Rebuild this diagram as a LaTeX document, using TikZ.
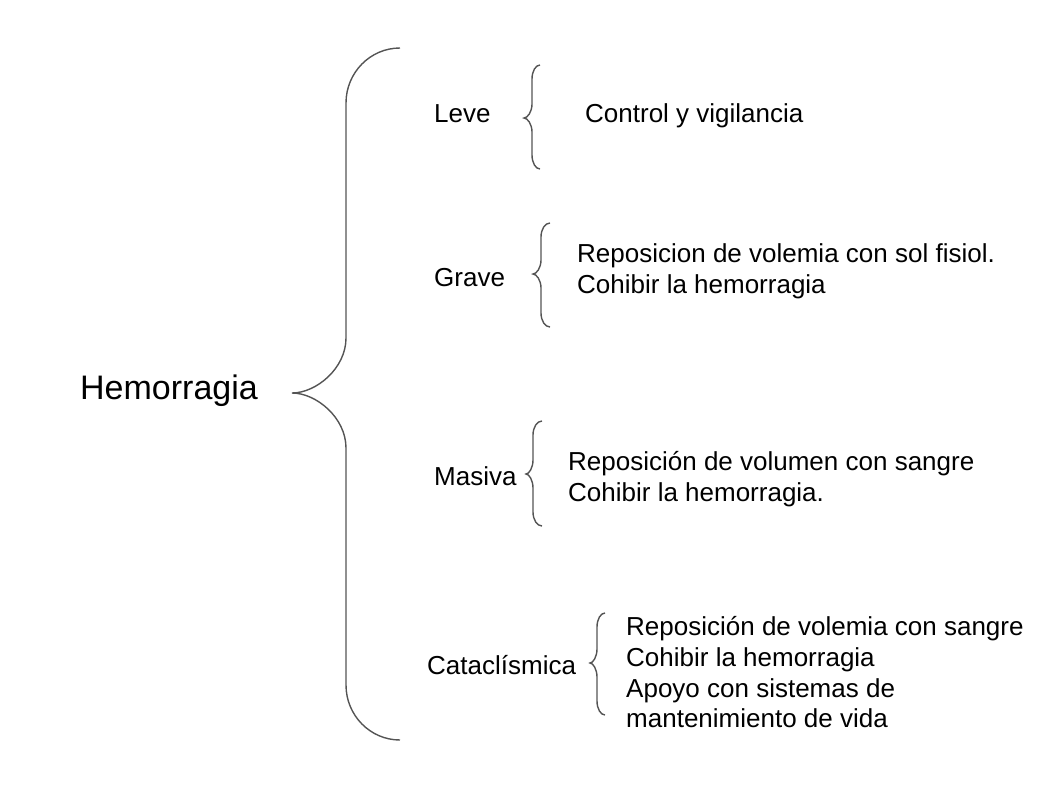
\documentclass[tikz,border=0pt]{standalone}
\usepackage{fontspec}
\setmainfont{Liberation Sans}
\definecolor{llavegris}{gray}{0.33}
% llave: x punta final, x recta, x pico, y arriba, y pico, y abajo, radio
\newcommand{\llave}[7]{%
  \draw[llave] (#1,#4) .. controls ({#2+0.448*(#1-#2)},#4) and (#2,{#4+0.448*#7}) .. (#2,{#4+#7})
    -- (#2,{#5-#7}) .. controls (#2,{#5-0.448*#7}) and ({#3+0.448*(#2-#3)},#5) .. (#3,#5)
    .. controls ({#3+0.448*(#2-#3)},#5) and (#2,{#5+0.448*#7}) .. (#2,{#5+#7})
    -- (#2,{#6-#7}) .. controls (#2,{#6-0.448*#7}) and ({#2+0.448*(#1-#2)},#6) .. (#1,#6);}
\begin{document}
\begin{tikzpicture}[x=1pt,y=-1pt,
    llave/.style={draw=llavegris,line width=1.4pt},
    texto/.style={anchor=base west,inner sep=0pt,font=\fontsize{26}{31}\selectfont}]
\useasboundingbox (0,0) rectangle (1049,796);

	\node[texto,font=\fontsize{34}{40}\selectfont] (hemorragia) at (80,399) {Hemorragia};
	\llave{400}{346}{292}{48}{393}{740}{55}

	\node[texto] (leve) at (434,122) {Leve};
	\llave{540}{532}{524}{65}{118}{169}{14}
	\node[texto] (control) at (585,122) {Control y vigilancia};

	\node[texto] (grave) at (434,286) {Grave};
	\llave{550}{541}{533}{223}{274}{327}{14}
	\node[texto] (gravea) at (577,262) {Reposicion de volemia con sol fisiol.};
	\node[texto] (graveb) at (577,293) {Cohibir la hemorragia};

	\node[texto] (masiva) at (434,485) {Masiva};
	\llave{542}{533}{526}{421}{474}{526}{14}
	\node[texto] (masivaa) at (568,470) {Reposición de volumen con sangre};
	\node[texto] (masivab) at (568,501) {Cohibir la hemorragia.};

	\node[texto] (catac) at (427,674) {Cataclísmica};
	\llave{605}{597}{590}{613}{663}{715}{14}
	\node[texto] (cataca) at (626,635) {Reposición de volemia con sangre};
	\node[texto] (catacb) at (626,666) {Cohibir la hemorragia};
	\node[texto] (catacc) at (626,697) {Apoyo con sistemas de};
	\node[texto] (catacd) at (626,727) {mantenimiento de vida};

\end{tikzpicture}
\end{document}
